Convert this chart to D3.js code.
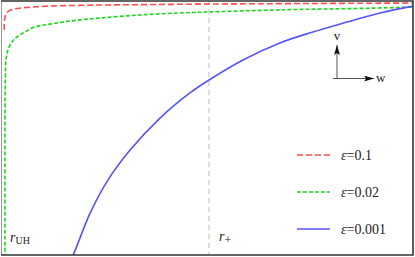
<!DOCTYPE html>
<html>
<head>
<meta charset="utf-8">
<script src="https://cdn.jsdelivr.net/npm/d3@7"></script>
<style>
  html, body { margin: 0; padding: 0; background: #fff; }
  svg { display: block; }
</style>
</head>
<body>
<svg id="chart"></svg>
<script>
// curves: r (horizontal), v (vertical, 0..1)
const redR   = [0.0015, 0.0024, 0.0098, 0.0244, 0.0537, 0.1024, 0.2244, 0.4683, 0.7122, 1.0, 1.444, 1.995];
const redV   = [0.886, 0.925, 0.949, 0.961, 0.969, 0.974, 0.980, 0.984, 0.986, 0.988, 0.990, 0.992];
const greenR = [0.0049, 0.0049, 0.0063, 0.0098, 0.0195, 0.039, 0.068, 0.102, 0.151, 0.224, 0.322, 0.468, 0.663, 0.859, 1.005, 1.249, 1.444, 1.688, 1.995];
const greenV = [-0.01, 0.531, 0.689, 0.768, 0.807, 0.839, 0.862, 0.878, 0.898, 0.909, 0.921, 0.933, 0.945, 0.953, 0.957, 0.963, 0.967, 0.970, 0.976];
const blueR  = [0.327, 0.337, 0.420, 0.507, 0.615, 0.761, 0.907, 1.0, 1.166, 1.346, 1.507, 1.673, 1.834, 1.995];
const blueV  = [-0.012, 0, 0.165, 0.295, 0.413, 0.539, 0.638, 0.689, 0.768, 0.835, 0.878, 0.917, 0.953, 0.980];

const seriesNames = ["0.1", "0.02", "0.001"];
const rPlus = 1.0;

const width = 415, height = 257;
const serif = "'Liberation Serif', 'Times New Roman', 'DejaVu Serif', serif";
const colors = { "0.1": "#ff4d4d", "0.02": "#1cd61c", "0.001": "#5555f5" };
const dashes = { "0.1": "6,3", "0.02": "4,2", "0.001": null };

const svg = d3.select("#chart")
  .attr("width", width)
  .attr("height", height)
  .attr("font-family", serif);

const x = d3.scaleLinear().domain([0, 2]).range([4, 414]);
const y = d3.scaleLinear().domain([0, 1]).range([255, 1]);

svg.append("clipPath").attr("id", "clip")
  .append("rect")
  .attr("x", 1).attr("y", 1)
  .attr("width", 412).attr("height", 254);

const plot = svg.append("g").attr("clip-path", "url(#clip)");

// r+ marker
plot.append("line")
  .attr("x1", x(rPlus)).attr("x2", x(rPlus))
  .attr("y1", 0).attr("y2", height)
  .attr("stroke", "#bdbdbd")
  .attr("stroke-width", 1)
  .attr("stroke-dasharray", "5,4");

const curves = [
  { key: "0.1", pts: redR.map((r, i) => [r, redV[i]]) },
  { key: "0.02", pts: greenR.map((r, i) => [r, greenV[i]]) },
  { key: "0.001", pts: blueR.map((r, i) => [r, blueV[i]]) }
];

const line = d3.line()
  .x(d => x(d[0]))
  .y(d => y(d[1]))
  .curve(d3.curveCatmullRom.alpha(0.5));

curves.forEach(c => {
  plot.append("path")
    .attr("d", line(c.pts))
    .attr("fill", "none")
    .attr("stroke", colors[c.key])
    .attr("stroke-width", 1.6)
    .attr("stroke-dasharray", dashes[c.key]);
});

// frame
svg.append("line").attr("x1", 1.5).attr("x2", 1.5).attr("y1", 1).attr("y2", 255.5)
  .attr("stroke", "#9a9a9a").attr("stroke-width", 1);
svg.append("path")
  .attr("d", "M1,1 H413 V255 H1")
  .attr("fill", "none")
  .attr("stroke", "#333")
  .attr("stroke-width", 1.6);

// labels r_UH and r_+
const lUH = svg.append("text").attr("x", 10).attr("y", 242).attr("font-size", 14).attr("fill", "#222");
lUH.append("tspan").attr("font-style", "italic").text("r");
lUH.append("tspan").attr("font-size", 10).attr("dy", 2).text("UH");

const lP = svg.append("text").attr("x", 219).attr("y", 241).attr("font-size", 14).attr("fill", "#222");
lP.append("tspan").attr("font-style", "italic").text("r");
lP.append("tspan").attr("font-size", 12).attr("dy", 3).text("+");

// v / w direction arrows
svg.append("defs").append("marker")
  .attr("id", "arrow")
  .attr("viewBox", "0 0 10 6")
  .attr("refX", 10).attr("refY", 3)
  .attr("markerWidth", 10).attr("markerHeight", 6)
  .attr("markerUnits", "userSpaceOnUse")
  .attr("orient", "auto")
  .append("path")
  .attr("d", "M0,0 L10,3 L0,6 L2,3 Z")
  .attr("fill", "#111");

svg.append("line")
  .attr("x1", 337).attr("y1", 79).attr("x2", 337).attr("y2", 45)
  .attr("stroke", "#555").attr("stroke-width", 1)
  .attr("marker-end", "url(#arrow)");
svg.append("line")
  .attr("x1", 333).attr("y1", 78.5).attr("x2", 374).attr("y2", 78.5)
  .attr("stroke", "#555").attr("stroke-width", 1)
  .attr("marker-end", "url(#arrow)");
svg.append("text").attr("x", 337).attr("y", 40).attr("text-anchor", "middle")
  .attr("font-size", 13).attr("fill", "#222").text("v");
svg.append("text").attr("x", 376).attr("y", 82)
  .attr("font-size", 13).attr("fill", "#222").text("w");

// legend
const legendY = [155, 192, 229];
seriesNames.forEach((k, i) => {
  svg.append("line")
    .attr("x1", 297).attr("x2", 330)
    .attr("y1", legendY[i]).attr("y2", legendY[i])
    .attr("stroke", colors[k])
    .attr("stroke-width", 1.6)
    .attr("stroke-dasharray", dashes[k]);
  const t = svg.append("text")
    .attr("x", 341).attr("y", legendY[i] + 4.5)
    .attr("font-size", 14).attr("fill", "#222");
  t.append("tspan").attr("font-style", "italic").text("ε");
  t.append("tspan").text("=" + k);
});
</script>
</body>
</html>
